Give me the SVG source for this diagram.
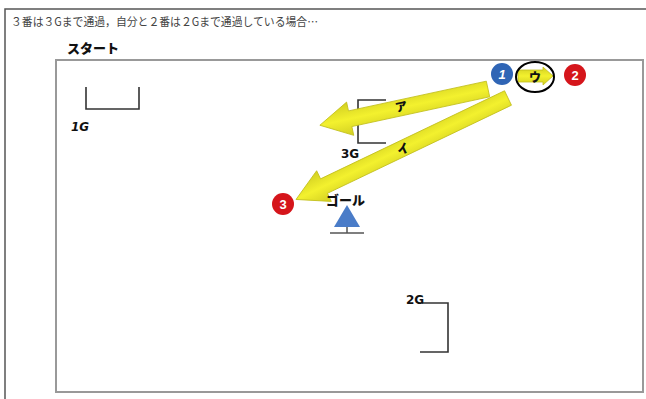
<svg xmlns="http://www.w3.org/2000/svg" width="646" height="399" viewBox="0 0 646 399">
<style>
.title{font-family:"Noto Sans CJK JP","Noto Sans",sans-serif;font-size:11.5px;fill:#444}
.bold{font-family:"Noto Sans CJK JP","Noto Sans",sans-serif;font-weight:900;fill:#111}
.gate{fill:none;stroke:#333;stroke-width:1.6}
.num{font-family:"Liberation Sans",Arial,sans-serif;font-weight:bold;font-size:13px;fill:#fff;text-anchor:middle}
.glab{font-family:"DejaVu Sans",sans-serif;font-weight:bold;font-size:12px;fill:#111}
.arrow{fill:url(#yg);stroke:#c2bf1c;stroke-width:0.8}
.alab{font-family:"Noto Sans CJK JP",sans-serif;font-weight:900;font-size:12px;fill:#111;text-anchor:middle}
</style>
<defs>
<linearGradient id="yg" x1="0" y1="0" x2="0" y2="1">
<stop offset="0" stop-color="#d2cf22"/>
<stop offset="0.5" stop-color="#f3f12e"/>
<stop offset="1" stop-color="#d2cf22"/>
</linearGradient>
</defs>
<rect width="646" height="399" fill="#fff"/>
<g id="frame">
<path d="M5,399 V9 H646" fill="none" stroke="#555" stroke-width="1.5"/>
<rect x="56" y="60" width="587" height="332" fill="none" stroke="#999" stroke-width="2"/>
</g>
<text class="title" x="11" y="26" textLength="307" lengthAdjust="spacingAndGlyphs">３番は３Gまで通過，自分と２番は２Gまで通過している場合…</text>
<text class="bold" x="67" y="53" font-size="13">スタート</text>
<g id="gate1">
<path class="gate" d="M86,87 V109 H139 V87"/>
<text class="glab" x="71" y="131" font-style="italic">1G</text>
</g>
<g id="gate3">
<path class="gate" d="M386,100 H358 V143 H386"/>
<text class="glab" x="341" y="158">3G</text>
</g>
<g id="gate2">
<path class="gate" d="M422,303 H448 V352 H420"/>
<text class="glab" x="406" y="304">2G</text>
</g>
<g id="connectors">
<polygon class="arrow" transform="translate(488,89) rotate(167.83)" points="0,-8 141,-8 141,-17 172,0 141,17 141,8 0,8"/>
<polygon class="arrow" transform="translate(508,98) rotate(154.42)" points="0,-8 204,-8 204,-17 235,0 204,17 204,8 0,8"/>
<polygon class="arrow" points="518,70 543,70 543,67 553,76 543,85 543,82 518,82"/>
<text class="alab" transform="translate(402,111) rotate(-12)">ア</text>
<text class="alab" transform="translate(405,153) rotate(-25)">イ</text>
<text class="alab" x="535" y="82">ウ</text>
</g>
<g id="ellipse-u">
<ellipse cx="535" cy="77" rx="19" ry="15" fill="none" stroke="#000" stroke-width="2"/>
</g>
<g id="p1">
<circle cx="502" cy="74" r="11" fill="#2f65b5"/>
<text class="num" x="502" y="79" font-style="italic">1</text>
</g>
<g id="p2">
<circle cx="575" cy="75" r="11" fill="#d5151b"/>
<text class="num" x="575" y="80">2</text>
</g>
<g id="p3">
<circle cx="283" cy="204" r="11" fill="#d5151b"/>
<text class="num" x="283" y="209">3</text>
</g>
<g id="goal">
<text class="bold" x="326" y="205" font-size="13">ゴール</text>
<polygon points="347,205 334,227 360,227" fill="#4a7cc8"/>
<path d="M347,227 V233 M330,233 H364" stroke="#555" stroke-width="1.5" fill="none"/>
</g>
</svg>
